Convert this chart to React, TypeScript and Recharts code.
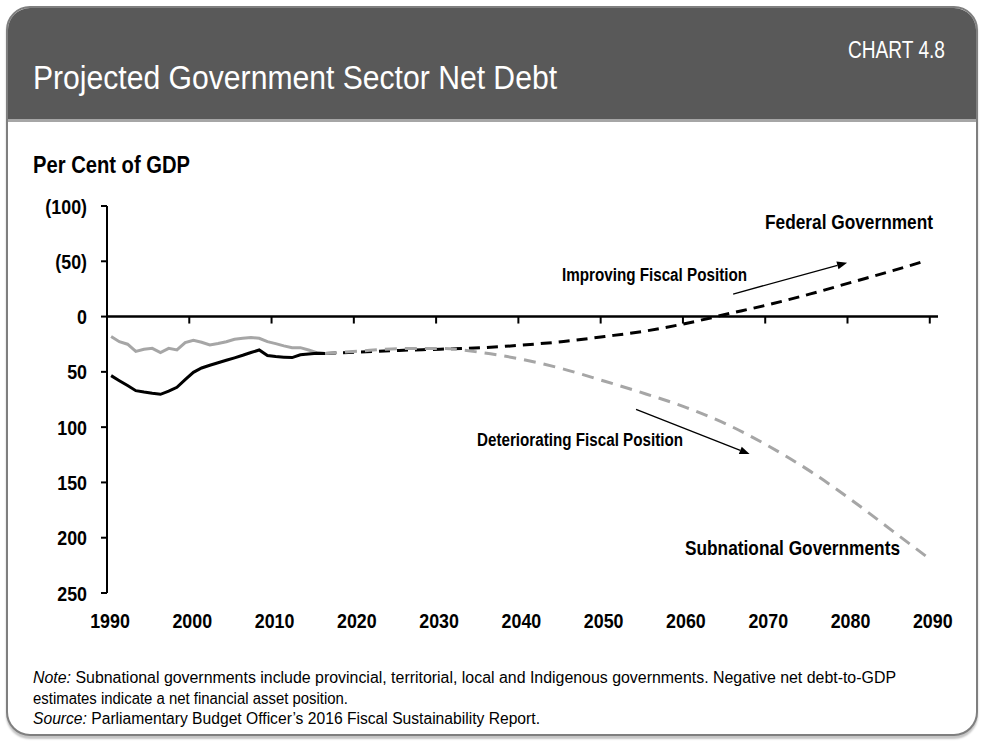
import { LineChart, Line, XAxis, YAxis, ReferenceLine } from "recharts";

const histYears = [
  1990, 1991, 1992, 1993, 1994, 1995, 1996, 1997, 1998, 1999, 2000, 2001, 2002, 2003,
  2004, 2005, 2006, 2007, 2008, 2009, 2010, 2011, 2012, 2013, 2014, 2015, 2016,
];
const federalHist = [
  53.4, 58, 62.4, 67, 68.3, 69.4, 70.3, 67.5, 64, 57, 50.4, 46.5, 44, 41.8,
  39.5, 37.3, 35, 32.5, 30.2, 35.2, 36.2, 36.7, 37.1, 34.5, 33.8, 33.2, 33.3,
];
const subnationalHist = [
  18.1, 22.7, 25, 31.5, 29.6, 28.7, 32.6, 28.7, 30.2, 23.5, 21.4, 23.2, 25.7, 24.3,
  22.7, 20.5, 19.6, 19, 19.6, 22.7, 24.5, 26.5, 28.1, 28.1, 30.2, 32.6, 33.5,
];

const projYears = [2016, 2020, 2025, 2030, 2035, 2040, 2045, 2050, 2055, 2060, 2065, 2070, 2075, 2080, 2085, 2089];
const federalProj = [33.3, 32.2, 30.6, 29.5, 28.2, 25.8, 22.5, 18, 13, 6, -2.5, -11, -20.5, -31, -41.5, -50.5];
const subnationalProj = [33.5, 31.3, 29, 28.8, 32.5, 38.8, 47.5, 58.5, 70, 82.5, 98, 117.5, 140, 166, 194, 216.5];

const xTicks = [1990, 2000, 2010, 2020, 2030, 2040, 2050, 2060, 2070, 2080, 2090];
const yTicks = [-100, -50, 0, 50, 100, 150, 200, 250];

// fiscal years are plotted at mid-year
const histData = histYears.map((y, i) => ({ x: y + 0.5, federal: federalHist[i], sub: subnationalHist[i] }));
const projData = projYears.map((y, i) => ({ x: y + 0.5, federal: federalProj[i], sub: subnationalProj[i] }));

const FONT = "'Liberation Sans', Arial, sans-serif";
const GREY = "#a6a6a6";
const SQUEEZE = 0.85;

const Arrow = (props: any) => {
  const { x1, y1, x2, y2 } = props;
  const a = Math.atan2(y2 - y1, x2 - x1);
  const len = 10;
  const w = 4;
  const bx = x2 - len * Math.cos(a);
  const by = y2 - len * Math.sin(a);
  const px = -Math.sin(a) * w;
  const py = Math.cos(a) * w;
  return (
    <g>
      <line x1={x1} y1={y1} x2={bx} y2={by} stroke="#000" strokeWidth={1.3} />
      <polygon points={`${x2},${y2} ${bx + px},${by + py} ${bx - px},${by - py}`} fill="#000" />
    </g>
  );
};

const fmtY = (v: number) => (v < 0 ? `(${-v})` : `${v}`);

const XTick = (props: any) => {
  const { x, y, payload } = props;
  return (
    <text transform={`translate(${x + 3},${y}) scale(${SQUEEZE},1)`} textAnchor="middle" dy="0.71em" fill="#000" fontSize={21} fontWeight={700} fontFamily={FONT}>
      {payload.value}
    </text>
  );
};

const YTick = (props: any) => {
  const { x, y, payload } = props;
  return (
    <text transform={`translate(${x},${y}) scale(${SQUEEZE},1)`} textAnchor="end" dy="0.36em" fill="#000" fontSize={21} fontWeight={700} fontFamily={FONT}>
      {fmtY(payload.value)}
    </text>
  );
};

// text squeezed to the measured width of the narrow face
const T = ({ x, y, w, size, bold, fill = "#000", children }: any) => (
  <text x={x} y={y} textLength={w} lengthAdjust="spacingAndGlyphs" fontSize={size} fontWeight={bold ? 700 : 400} fill={fill}>
    {children}
  </text>
);

export default function App() {
  return (
    <div style={{ position: "absolute", left: 0, top: 0, width: 981, height: 742, background: "#fff", fontFamily: FONT }}>
      <div
        style={{
          position: "absolute",
          left: 6,
          top: 6,
          width: 968,
          height: 726,
          border: "2px solid #7f7f7f",
          borderRadius: 24,
          overflow: "hidden",
          background: "#fff",
          boxShadow: "0 3px 2px #c4c4c4",
        }}
      >
        <div style={{ height: 111, background: "#595959", borderBottom: "3px solid #a6a6a6" }} />
      </div>

      <LineChart
        width={981}
        height={650}
        margin={{ top: 206, right: 43, bottom: 27, left: 0 }}
        style={{ position: "absolute", left: 0, top: 0 }}
      >
        <XAxis
          type="number"
          dataKey="x"
          domain={[1990, 2091]}
          ticks={xTicks}
          allowDataOverflow
          axisLine={false}
          tickLine={false}
          tickSize={0}
          tickMargin={20}
          height={30}
          tick={<XTick />}
        />
        <YAxis
          type="number"
          reversed
          domain={[-100, 250]}
          ticks={yTicks}
          width={107}
          axisLine={{ stroke: "#000", strokeWidth: 2 }}
          tickLine={{ stroke: "#000", strokeWidth: 2 }}
          tickSize={6}
          tickMargin={14}
          tick={<YTick />}
        />
        <ReferenceLine y={0} stroke="#000" strokeWidth={2.5} />
        {xTicks.slice(1).map((t) => (
          <ReferenceLine key={t} segment={[{ x: t, y: 0 }, { x: t, y: 6.3 }]} stroke="#000" strokeWidth={2} />
        ))}
        <Line data={histData} dataKey="sub" stroke={GREY} strokeWidth={3} dot={false} isAnimationActive={false} type="linear" />
        <Line data={histData} dataKey="federal" stroke="#000" strokeWidth={3} dot={false} isAnimationActive={false} type="linear" />
        <Line data={projData} dataKey="federal" stroke="#000" strokeWidth={3} strokeDasharray="11 7" dot={false} isAnimationActive={false} type="monotone" />
        <Line data={projData} dataKey="sub" stroke={GREY} strokeWidth={3} strokeDasharray="12 8" dot={false} isAnimationActive={false} type="monotone" />
        <ReferenceLine segment={[{ x: 2066.1, y: -20.4 }, { x: 2079.95, y: -48.7 }]} shape={Arrow} />
        <ReferenceLine segment={[{ x: 2054.3, y: 83.9 }, { x: 2068.1, y: 124.3 }]} shape={Arrow} />
      </LineChart>

      <svg width={981} height={742} style={{ position: "absolute", left: 0, top: 0, pointerEvents: "none" }} fontFamily={FONT}>
        <T x={33} y={89} w={524} size={34} fill="#fff">Projected Government Sector Net Debt</T>
        <T x={848} y={58} w={97} size={23} fill="#fff">CHART 4.8</T>
        <T x={33} y={173} w={157} size={24} bold>Per Cent of GDP</T>
        <T x={765} y={229} w={168} size={21} bold>Federal Government</T>
        <T x={562} y={281} w={185} size={18} bold>Improving Fiscal Position</T>
        <T x={477} y={446} w={206} size={18} bold>Deteriorating Fiscal Position</T>
        <T x={685} y={555} w={215} size={21} bold>Subnational Governments</T>
        <T x={33} y={683} w={863} size={16}>
          <tspan fontStyle="italic">Note:</tspan> Subnational governments include provincial, territorial, local and Indigenous governments. Negative net debt-to-GDP
        </T>
        <T x={33} y={704} w={315} size={16}>estimates indicate a net financial asset position.</T>
        <T x={33} y={724} w={507} size={16}>
          <tspan fontStyle="italic">Source:</tspan> Parliamentary Budget Officer’s 2016 Fiscal Sustainability Report.
        </T>
      </svg>
    </div>
  );
}
